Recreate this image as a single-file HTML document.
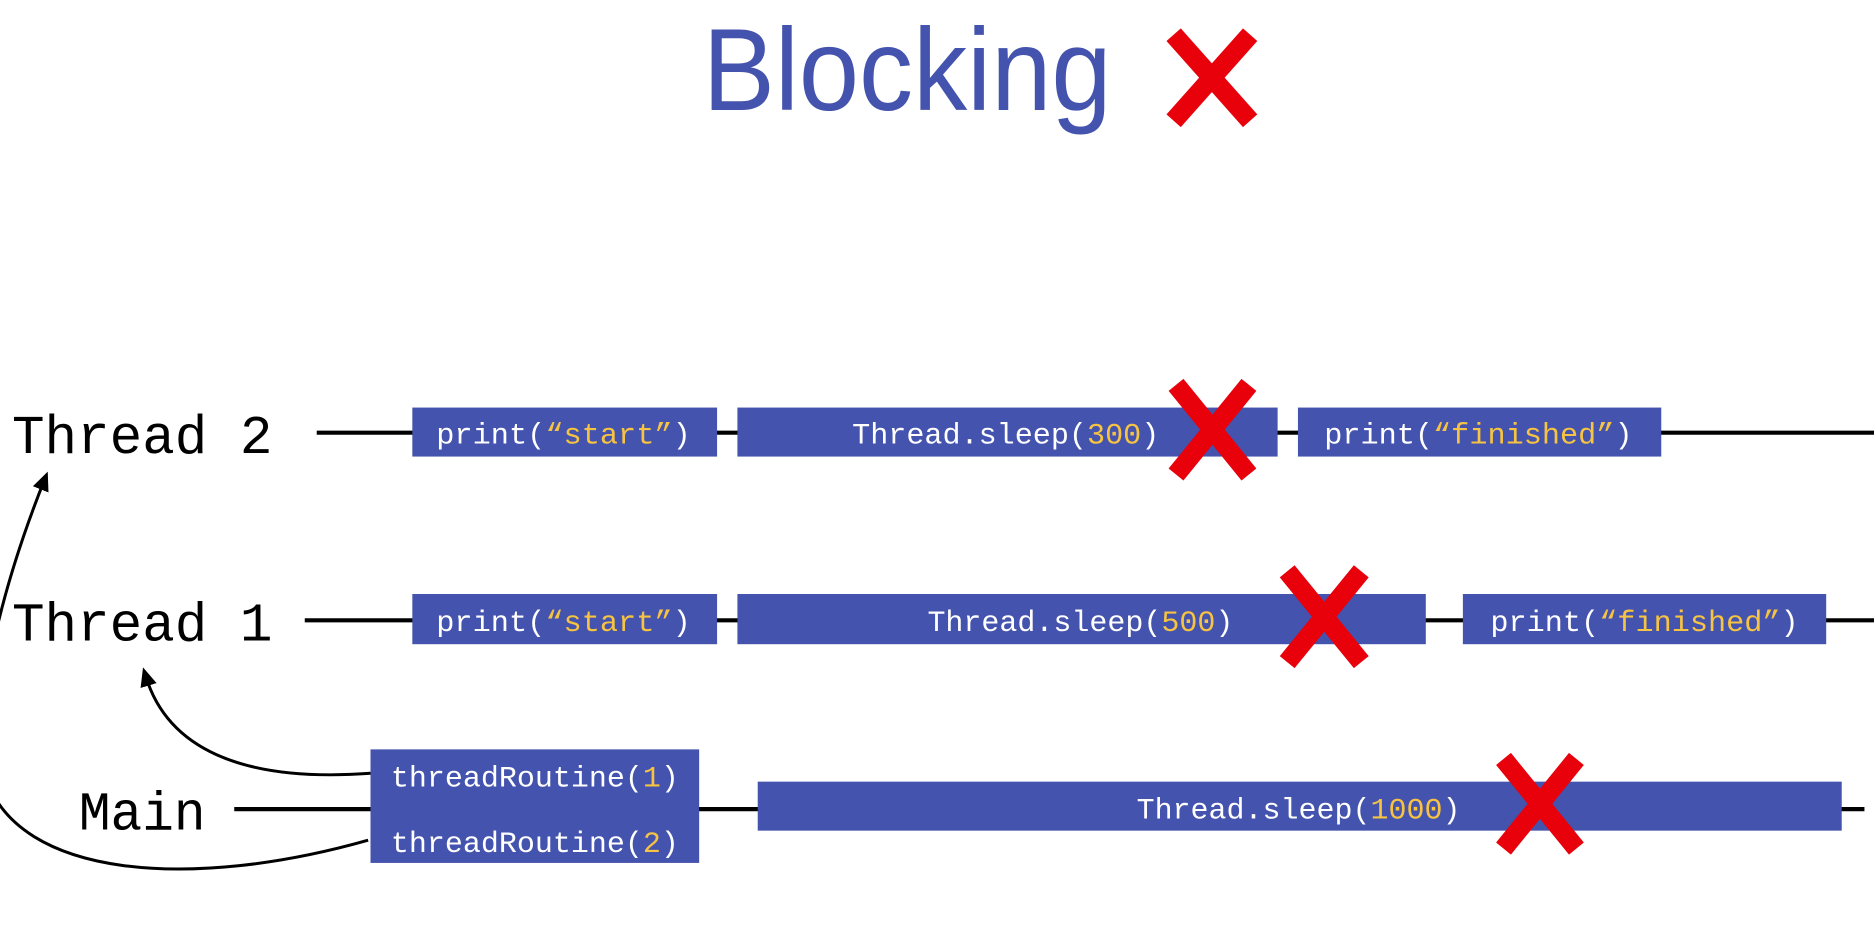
<!DOCTYPE html>
<html><head><meta charset="utf-8"><style>
html,body{margin:0;padding:0;background:#fff;width:1874px;height:946px;overflow:hidden}
svg{display:block}
.lbl{font-family:"Liberation Mono",monospace;font-size:46px;fill:#000}
.bt{font-family:"Liberation Mono",monospace;font-size:25px;fill:#fff}
.y{fill:#f6c343}
</style></head><body>
<svg width="1874" height="946" viewBox="0 0 1568 791.5" xmlns="http://www.w3.org/2000/svg">
<defs>
<marker id="ah" markerWidth="16" markerHeight="16" refX="8" refY="8" orient="auto" markerUnits="userSpaceOnUse" viewBox="0 0 16 16">
<path d="M0,1 L16,8 L0,15 z" fill="#000"/>
</marker>
</defs>
<text x="588" y="92" textLength="342" lengthAdjust="spacingAndGlyphs" style="font-family:'Liberation Sans',sans-serif;font-size:98px;fill:#4453ad">Blocking</text>
<g stroke="#e8000b" stroke-width="16" stroke-linecap="butt">
<line x1="982" y1="29" x2="1046" y2="101"/><line x1="1046" y1="29" x2="982" y2="101"/>
</g>
<g stroke="#000" stroke-width="3.5">
<line x1="265" y1="362" x2="1568" y2="362"/>
<line x1="255" y1="519" x2="1568" y2="519"/>
<line x1="196" y1="677" x2="1560" y2="677"/>
</g>
<text class="lbl" x="10" y="379" textLength="218" lengthAdjust="spacingAndGlyphs">Thread 2</text>
<text class="lbl" x="10" y="536" textLength="218" lengthAdjust="spacingAndGlyphs">Thread 1</text>
<text class="lbl" x="66" y="694" textLength="106" lengthAdjust="spacingAndGlyphs">Main</text>
<g fill="#4453ad">
<rect x="345" y="341" width="255" height="41"/>
<rect x="617" y="341" width="452" height="41"/>
<rect x="1086" y="341" width="304" height="41"/>
<rect x="345" y="497" width="255" height="42"/>
<rect x="617" y="497" width="576" height="42"/>
<rect x="1224" y="497" width="304" height="42"/>
<rect x="310" y="627" width="275" height="95"/>
<rect x="634" y="654" width="907" height="41"/>
</g>
<g class="bt">
<text x="365" y="371" textLength="213" lengthAdjust="spacingAndGlyphs">print(<tspan class="y">“start”</tspan>)</text>
<text x="713" y="371" textLength="257" lengthAdjust="spacingAndGlyphs">Thread.sleep(<tspan class="y">300</tspan>)</text>
<text x="1108" y="371" textLength="258" lengthAdjust="spacingAndGlyphs">print(<tspan class="y">“finished”</tspan>)</text>
<text x="365" y="528" textLength="213" lengthAdjust="spacingAndGlyphs">print(<tspan class="y">“start”</tspan>)</text>
<text x="776" y="528" textLength="256" lengthAdjust="spacingAndGlyphs">Thread.sleep(<tspan class="y">500</tspan>)</text>
<text x="1247" y="528" textLength="258" lengthAdjust="spacingAndGlyphs">print(<tspan class="y">“finished”</tspan>)</text>
<text x="327" y="658" textLength="241" lengthAdjust="spacingAndGlyphs">threadRoutine(<tspan class="y">1</tspan>)</text>
<text x="327" y="713" textLength="241" lengthAdjust="spacingAndGlyphs">threadRoutine(<tspan class="y">2</tspan>)</text>
<text x="951" y="685" textLength="271" lengthAdjust="spacingAndGlyphs">Thread.sleep(<tspan class="y">1000</tspan>)</text>
</g>
<g stroke="#e8000b" stroke-width="16" stroke-linecap="butt">
<line x1="984" y1="322" x2="1045" y2="397"/><line x1="1045" y1="322" x2="984" y2="397"/>
<line x1="1077" y1="478" x2="1139" y2="554"/><line x1="1139" y1="478" x2="1077" y2="554"/>
<line x1="1258" y1="635" x2="1319" y2="710"/><line x1="1319" y1="635" x2="1258" y2="710"/>
</g>
<g fill="none" stroke="#000" stroke-width="2.5">
<path d="M310,647 C200,655 140,625 122,566" marker-end="url(#ah)"/>
<path d="M308,703 C160,745 15,735 -12,650 C-25,580 10,470 37,402" marker-end="url(#ah)"/>
</g>
</svg>
</body></html>
